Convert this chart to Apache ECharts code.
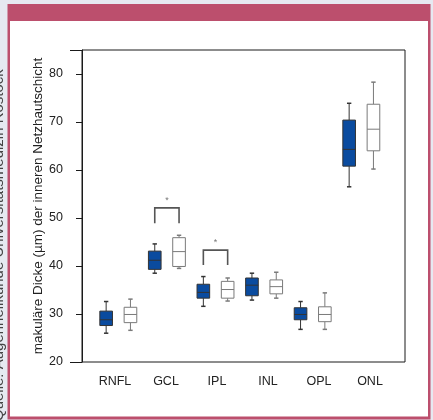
<!DOCTYPE html>
<html>
<head>
<meta charset="utf-8">
<title>makuläre Dicke</title>
<script src="https://cdn.jsdelivr.net/npm/echarts@6.0.0/dist/echarts.min.js"></script>
<style>
html, body { margin: 0; padding: 0; background: #e6e9f1; }
#main { width: 433px; height: 420px; }
</style>
</head>
<body>
<div id="main"></div>
<script>
// Schichten
var categories = ['RNFL', 'GCL', 'IPL', 'INL', 'OPL', 'ONL'];
// [min, Q1, Median, Q3, max] - blaue Boxen
var blueBoxes = [
	[26.0, 27.6, 28.8, 30.6, 32.6],
	[38.5, 39.3, 41.2, 43.1, 44.6],
	[31.6, 33.3, 34.5, 36.2, 37.8],
	[32.9, 33.8, 36.0, 37.5, 38.5],
	[26.8, 28.8, 29.9, 31.3, 32.6],
	[56.5, 60.8, 64.3, 70.4, 73.9]
];
// [min, Q1, Median, Q3, max] - weiße Boxen
var whiteBoxes = [
	[26.6, 28.2, 29.9, 31.4, 33.1],
	[39.5, 39.9, 43.0, 45.9, 46.4],
	[32.7, 33.3, 35.1, 36.8, 37.5],
	[33.3, 34.2, 35.7, 37.1, 38.7],
	[26.8, 28.4, 29.9, 31.5, 34.4],
	[60.2, 64.0, 68.5, 73.7, 78.3]
];
// Signifikanz-Klammern: [Kategorie, oben, Beinende, Sternchen]
var brackets = [
	[1, 52.1, 48.9, 53.6],
	[2, 43.3, 40.2, 44.9]
];
var yTicks = { min: 20, max: 85, interval: 10 };

var FONT = '"Liberation Sans", Arial, sans-serif';

function toRows(boxes) {
	return boxes.map(function (b, i) { return [i].concat(b); });
}

// Box zeichnen, side = -1 links, 1 rechts
function boxRenderer(side, fill, stroke) {
	return function (params, api) {
		var band = api.size([1, 0])[0];
		var cat = api.value(0);
		var x = api.coord([cat, 0])[0] + side * band / 4;
		var w = band * 0.26, cap = band * 0.09;
		var yLo = api.coord([cat, api.value(1)])[1];
		var yQ1 = api.coord([cat, api.value(2)])[1];
		var yMed = api.coord([cat, api.value(3)])[1];
		var yQ3 = api.coord([cat, api.value(4)])[1];
		var yHi = api.coord([cat, api.value(5)])[1];
		var ls = { stroke: stroke, lineWidth: 1 };
		return {
			type: 'group',
			children: [
				{ type: 'line', shape: { x1: x, y1: yHi, x2: x, y2: yQ3 }, style: ls },
				{ type: 'line', shape: { x1: x, y1: yQ1, x2: x, y2: yLo }, style: ls },
				{ type: 'line', shape: { x1: x - cap / 2, y1: yHi, x2: x + cap / 2, y2: yHi }, style: { stroke: stroke, lineWidth: 1.5 } },
				{ type: 'line', shape: { x1: x - cap / 2, y1: yLo, x2: x + cap / 2, y2: yLo }, style: { stroke: stroke, lineWidth: 1.5 } },
				{ type: 'rect', shape: { x: x - w / 2, y: yQ3, width: w, height: yQ1 - yQ3 }, style: { fill: fill, stroke: stroke, lineWidth: 1 } },
				{ type: 'line', shape: { x1: x - w / 2, y1: yMed, x2: x + w / 2, y2: yMed }, style: ls }
			]
		};
	};
}

function bracketRenderer(params, api) {
	var band = api.size([1, 0])[0];
	var cat = api.value(0);
	var cx = api.coord([cat, 0])[0];
	var q = band / 4;
	var yTop = api.coord([cat, api.value(1)])[1];
	var yLeg = api.coord([cat, api.value(2)])[1];
	var yStar = api.coord([cat, api.value(3)])[1];
	return {
		type: 'group',
		children: [
			{ type: 'polyline', shape: { points: [[cx - q, yLeg], [cx - q, yTop], [cx + q, yTop], [cx + q, yLeg]] },
				style: { stroke: '#555', lineWidth: 1.6, fill: null } },
			{ type: 'text', x: cx, y: yStar, style: { text: '*', fill: '#777', font: '9px ' + FONT, align: 'center', verticalAlign: 'middle' } }
		]
	};
}

var myChart = echarts.init(document.getElementById('main'));

var option = {
	backgroundColor: '#e6e9f1',
	animation: false,
	graphic: [
		{ type: 'text', x: 6, y: 421, rotation: Math.PI / 2, z: -20,
			style: { text: 'Quelle: Augenheilkunde Universitätsmedizin Rostock', fill: '#444', font: '15px ' + FONT, align: 'left', verticalAlign: 'bottom' } },
		{ type: 'rect', z: -10, shape: { x: 7.5, y: 4, width: 423, height: 415.5 }, style: { fill: '#bc4f6d' } },
		{ type: 'rect', z: -9, shape: { x: 10, y: 21, width: 418, height: 395.5 }, style: { fill: '#ffffff' } }
	],
	grid: [
		// Rahmen
		{ left: 82, top: 50, width: 323, height: 312, show: true, borderColor: '#1a1a1a', borderWidth: 1, backgroundColor: 'transparent', outerBoundsMode: 'none' },
		// Boxen
		{ left: 94, top: 50, width: 291.6, height: 312, outerBoundsMode: 'none' },
		// Beschriftung x
		{ left: 89.5, top: 50, width: 306, height: 312, outerBoundsMode: 'none' }
	],
	xAxis: [
		{ gridIndex: 0, type: 'value', min: 0, max: 1, show: false },
		{ gridIndex: 1, type: 'category', data: categories, show: false },
		{ gridIndex: 2, type: 'category', data: categories,
			axisLine: { show: false }, axisTick: { show: false },
			axisLabel: { margin: 13, fontSize: 12.5, color: '#222', fontFamily: FONT } }
	],
	yAxis: [
		{ gridIndex: 0, type: 'value', position: 'left', min: yTicks.min, max: yTicks.max, interval: yTicks.interval,
			name: 'makuläre Dicke (µm) der inneren Netzhautschicht',
			nameLocation: 'middle', nameGap: 37, nameMoveOverlap: false,
			nameTextStyle: { fontSize: 13.5, color: '#222', fontFamily: FONT },
			axisLine: { show: true, lineStyle: { color: '#1a1a1a', width: 1 } },
			axisTick: { show: true, length: 6, lineStyle: { color: '#1a1a1a' } },
			axisLabel: { margin: 19, fontSize: 12.5, color: '#222', fontFamily: FONT, showMaxLabel: false },
			splitLine: { show: false } },
		// längere Striche oben und unten
		{ gridIndex: 0, type: 'value', position: 'left', offset: 0, min: yTicks.min, max: yTicks.max, interval: yTicks.max - yTicks.min,
			axisLine: { show: false }, axisLabel: { show: false }, splitLine: { show: false },
			axisTick: { show: true, length: 12, lineStyle: { color: '#1a1a1a' } } },
		{ gridIndex: 1, type: 'value', min: yTicks.min, max: yTicks.max, show: false },
		{ gridIndex: 2, type: 'value', min: yTicks.min, max: yTicks.max, show: false }
	],
	series: [
		{ type: 'custom', name: 'blau', xAxisIndex: 1, yAxisIndex: 2,
			renderItem: boxRenderer(-1, '#0a4b9f', '#333'),
			encode: { x: 0, y: [1, 2, 3, 4, 5] },
			data: toRows(blueBoxes) },
		{ type: 'custom', name: 'weiß', xAxisIndex: 1, yAxisIndex: 2,
			renderItem: boxRenderer(1, '#ffffff', '#7a7a7a'),
			encode: { x: 0, y: [1, 2, 3, 4, 5] },
			data: toRows(whiteBoxes) },
		{ type: 'custom', name: 'sig', xAxisIndex: 1, yAxisIndex: 2,
			renderItem: bracketRenderer,
			encode: { x: 0, y: [1, 2, 3] },
			data: brackets }
	]
};
myChart.setOption(option);
</script>
</body>
</html>
